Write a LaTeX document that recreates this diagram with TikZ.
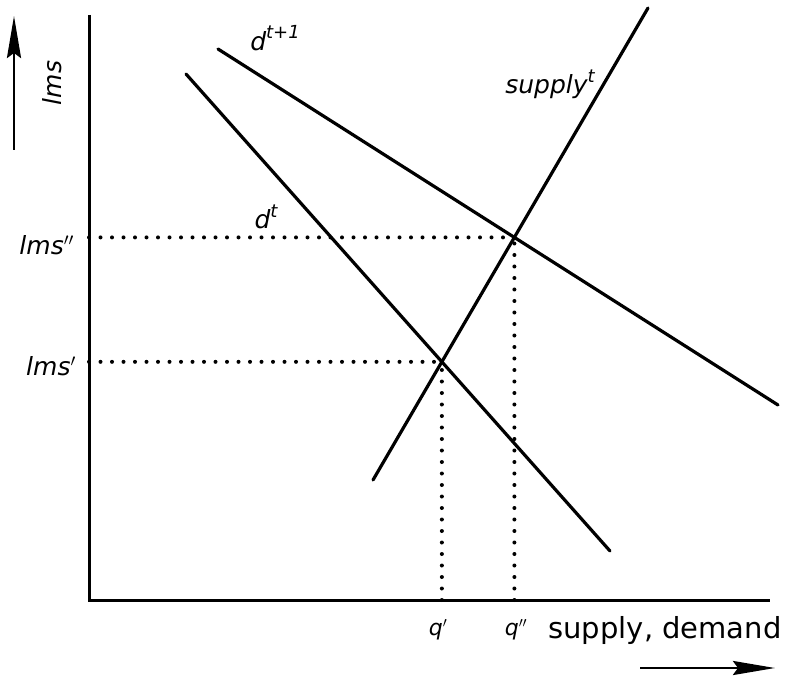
\documentclass[tikz,border=0pt]{standalone}
\usepackage{fontspec}
\newfontfamily\lab{DejaVu Sans}
\usetikzlibrary{arrows.meta}
\newcommand\mysup[1]{\raisebox{0.45em}{\fontsize{18}{20}\selectfont #1}}
\tikzset{
  curve/.style={line width=3.2pt, line cap=round},
  axis/.style={line width=3pt},
  dotline/.style={line width=4pt, line cap=round, dash pattern=on 0pt off 11.5pt},
  dirarrow/.style={line width=2.8pt, -{Stealth[length=42pt,width=14pt,inset=5pt]}},
  lbl/.style={font=\lab\itshape\fontsize{25}{30}\selectfont, inner sep=0pt},
  small/.style={font=\lab\itshape\fontsize{22}{26}\selectfont, inner sep=0pt}
}
\begin{document}
\begin{tikzpicture}[x=1pt,y=-1pt]
\useasboundingbox (0,0) rectangle (795,676);
% axes
\coordinate (O) at (89,600);
\coordinate (ytop) at (89,15);
\coordinate (xend) at (770,600);
\draw[axis] (ytop) -- (O) -- (xend);
% curves
\coordinate (d1a) at (218,49);
\coordinate (d1b) at (778,405);
\coordinate (d0a) at (186,74);
\coordinate (d0b) at (610,551);
\coordinate (sa) at (373,480);
\coordinate (sb) at (648,8);
\draw[curve] (d1a) -- (d1b);
\draw[curve] (d0a) -- (d0b);
\draw[curve] (sa) -- (sb);
% intersections
\coordinate (E2) at (intersection of sa--sb and d1a--d1b);
\coordinate (E1) at (intersection of sa--sb and d0a--d0b);
\coordinate (Y2) at (O |- E2);
\coordinate (Y1) at (O |- E1);
\coordinate (X1) at (E1 |- O);
\coordinate (X2) at (E2 |- O);
\draw[dotline] (Y2) -- (E2);
\draw[dotline] (Y1) -- (E1);
\draw[dotline] (X1) -- (E1);
\draw[dotline] (X2) -- (E2);
% direction arrows
\coordinate (ua) at (14,150);
\coordinate (ub) at (14,16);
\draw[dirarrow] (ua) -- (ub);
\coordinate (ra) at (640,668);
\coordinate (rb) at (775,668);
\draw[dirarrow] (ra) -- (rb);
% labels
\node[lbl, rotate=90] (lms) at (52,83) {lms};
\node[lbl, anchor=east] (lmsb) at (74,245) {lms$''$};
\node[lbl, anchor=east] (lmsa) at (76,366) {lms$'$};
\node[small] (q1) at (438,630) {q$'$};
\node[small] (q2) at (516,630) {q$''$};
\node[font=\lab\fontsize{29}{34}\selectfont, inner sep=0pt] (sd) at (665,630) {supply, demand};
\node[lbl] (dt1) at (275,38) {d\mysup{t+1}};
\node[lbl] (dt) at (266,217) {d\mysup{t}};
\node[lbl] (sup) at (550,84) {supply\mysup{t}};
\end{tikzpicture}
\end{document}
